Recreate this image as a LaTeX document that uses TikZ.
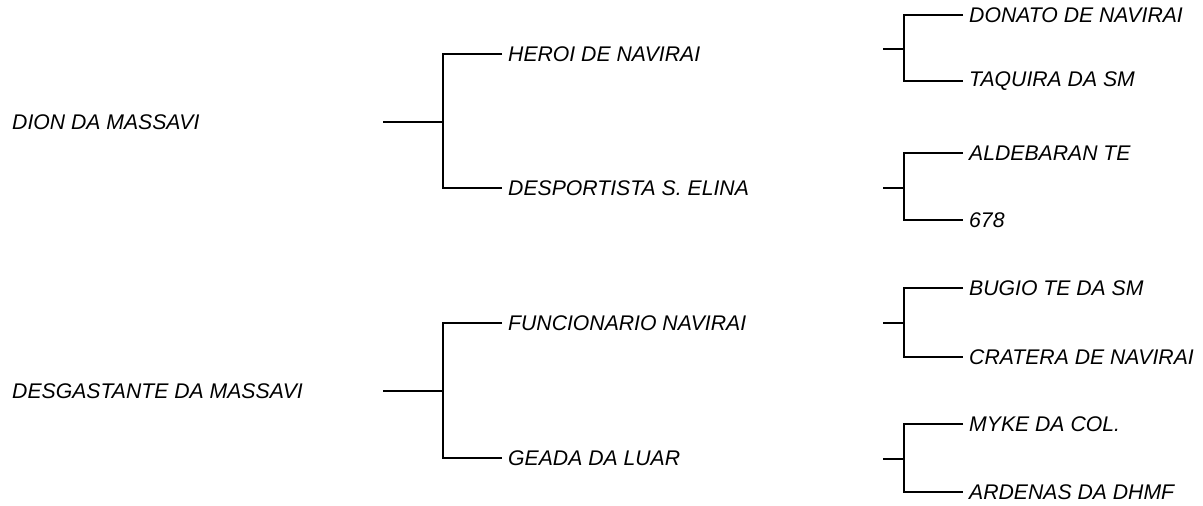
\documentclass[tikz,border=0pt]{standalone}
\usepackage{fontspec}
\setmainfont{Liberation Sans}
\tikzset{
  nome/.style={
    anchor=west,
    inner xsep=6pt,
    inner ysep=0pt,
    font=\fontsize{21.2}{25}\selectfont\itshape
  },
  ramo/.style={
    line width=1.5pt,
    black
  }
}
\begin{document}
\begin{tikzpicture}[x=1pt,y=-1pt]
\useasboundingbox (0,0) rectangle (1203,506);
% primeira geracao
\node[nome,inner xsep=0pt] (dion) at (12,122) {DION DA MASSAVI};
\node[nome,inner xsep=0pt] (desg) at (12,391) {DESGASTANTE DA MASSAVI};
% segunda geracao
\node[nome] (heroi) at (502,54) {HEROI DE NAVIRAI};
\node[nome] (desp) at (502,188) {DESPORTISTA S. ELINA};
\node[nome] (func) at (502,323) {FUNCIONARIO NAVIRAI};
\node[nome] (geada) at (502,458) {GEADA DA LUAR};
% terceira geracao
\node[nome] (donato) at (963,15) {DONATO DE NAVIRAI};
\node[nome] (taquira) at (963,81) {TAQUIRA DA SM};
\node[nome] (alde) at (963,153) {ALDEBARAN TE};
\node[nome] (seis) at (963,220) {678};
\node[nome] (bugio) at (963,288) {BUGIO TE DA SM};
\node[nome] (cratera) at (963,357) {CRATERA DE NAVIRAI};
\node[nome] (myke) at (963,424) {MYKE DA COL.};
\node[nome] (ardenas) at (963,492) {ARDENAS DA DHMF};
% pontas e juncoes
\coordinate (p1) at (383,122);
\coordinate (j1) at (443,122);
\coordinate (p2) at (383,391);
\coordinate (j2) at (443,391);
\coordinate (p3) at (883,49);
\coordinate (j3) at (904,49);
\coordinate (p4) at (883,188);
\coordinate (j4) at (904,188);
\coordinate (p5) at (883,323);
\coordinate (j5) at (904,323);
\coordinate (p6) at (883,459);
\coordinate (j6) at (904,459);
% chaves
\draw[ramo] (p1) -- (j1);
\draw[ramo] (heroi.west) -| (j1) |- (desp.west);
\draw[ramo] (p2) -- (j2);
\draw[ramo] (func.west) -| (j2) |- (geada.west);
\draw[ramo] (p3) -- (j3);
\draw[ramo] (donato.west) -| (j3) |- (taquira.west);
\draw[ramo] (p4) -- (j4);
\draw[ramo] (alde.west) -| (j4) |- (seis.west);
\draw[ramo] (p5) -- (j5);
\draw[ramo] (bugio.west) -| (j5) |- (cratera.west);
\draw[ramo] (p6) -- (j6);
\draw[ramo] (myke.west) -| (j6) |- (ardenas.west);
\end{tikzpicture}
\end{document}
